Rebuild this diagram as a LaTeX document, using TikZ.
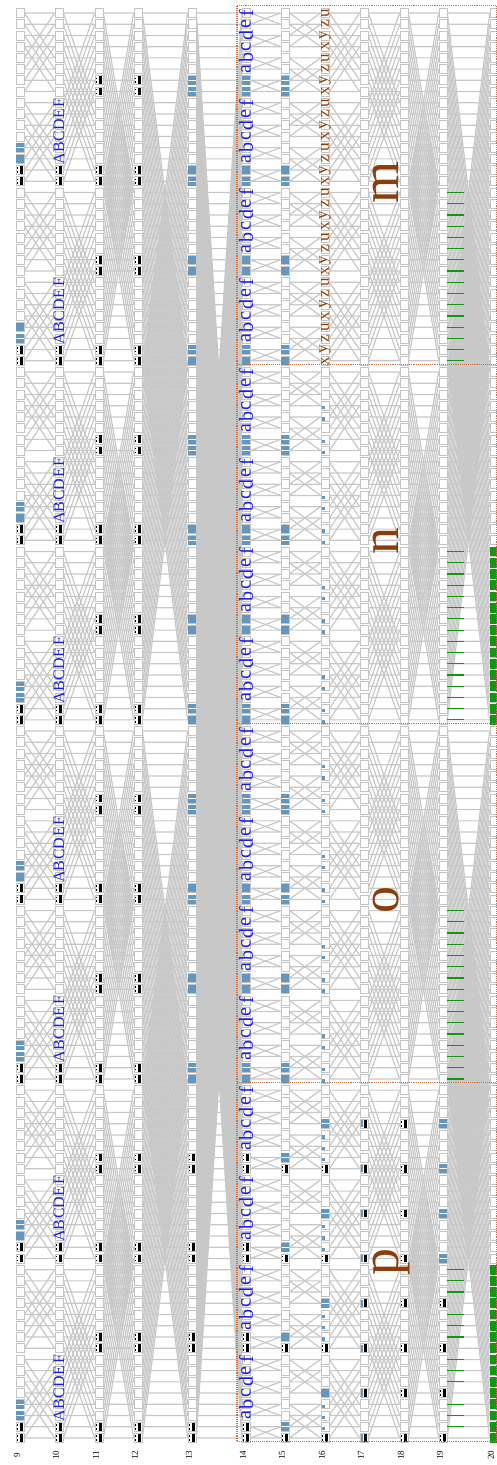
\documentclass[tikz,border=0pt]{standalone}
\usepackage{fontspec}
\setmainfont{Liberation Serif}
\definecolor{wiregray}{RGB}{200,200,200}
\definecolor{cellgray}{RGB}{196,196,196}
\definecolor{rustbrown}{RGB}{140,62,10}
\definecolor{boxbrown}{RGB}{200,115,70}
\definecolor{labelblue}{RGB}{30,30,225}
\definecolor{tileblue}{RGB}{100,150,190}
\definecolor{markgreen}{RGB}{20,150,20}
\tikzset{
  cell/.style={draw=cellgray,fill=white,line width=0.7pt,minimum width=8pt,
    minimum height=9pt,inner sep=0pt},
  wire/.style={draw=wiregray,line width=1.2pt},
  secbox/.style={draw=boxbrown,densely dotted,line width=1.1pt},
  chr/.style={rotate=90,inner sep=0pt,text=labelblue,
    font=\fontsize{20}{20}\selectfont},
  capchr/.style={rotate=90,inner sep=0pt,text=labelblue,
    font=\fontsize{16}{16}\selectfont},
  brownchr/.style={rotate=90,inner sep=0pt,text=rustbrown,
    font=\fontsize{17}{17}\selectfont},
  bigchr/.style={rotate=90,inner sep=0pt,text=rustbrown,
    font=\fontsize{54}{54}\selectfont},
  stagelbl/.style={rotate=90,inner sep=0pt,font=\fontsize{9}{9}\selectfont},
  stub/.style={draw=markgreen,line width=1.2pt},
  blackmark/.pic={
    \fill[black] (-3.3,-2.8) rectangle (-1.6,-1.1);
    \fill[black] (-3.3,1.1) rectangle (-1.6,2.8);
    \fill[black] (0.2,-3.9) rectangle (3.1,3.9);},
  bluetile/.pic={
    \foreach \u in {-3.7,0.3}{\foreach \v in {-4.3,0.3}{
      \fill[tileblue] (\u,\v) rectangle ++(3.4,4);}}},
  bluedot/.pic={\fill[tileblue] (-3.5,0.3) rectangle ++(3.2,3.4);},
  mixmark/.pic={
    \fill[tileblue] (-3.5,-3.6) rectangle (-0.6,3.6);
    \fill[black] (0.2,-3.9) rectangle (3.1,3.9);},
}

\begin{document}
\begin{tikzpicture}[x=1pt,y=-1pt]
\useasboundingbox (0,0) rectangle (496,1465);
% cells of every stage
\foreach \s/\x in {9/20,10/59,11/99,12/138,13/192,14/246,15/285,16/325,
                   17/364,18/404,19/443,20/494}{
  \foreach \r in {0,...,127}{
    \node[cell] (c\s-\r) at (\x,13+11.22*\r) {};}
  \node[stagelbl] (lbl\s) at (\x-3,1455) {\s};}
% butterfly wiring
\foreach \s/\t/\d in {9/10/4,10/11/8,11/12/16,12/13/32,13/14/64,14/15/1,
                      15/16/2,16/17/4,17/18/8,18/19/16,19/20/32}{
  \foreach \r in {0,...,127}{
    \pgfmathtruncatemacro\p{ifthenelse(mod(floor(\r/\d),2)==0,\r+\d,\r-\d)}
    \draw[wire] (c\s-\r.east) -- (c\t-\r.west) (c\s-\r.east) -- (c\t-\p.west);}}
% markers, stages 9 and 10
\foreach \k in {0,...,7}{
  \foreach \j in {12,13}{
    \pgfmathtruncatemacro\r{16*\k+\j}
    \pic at (c9-\r) {bluetile};}
  \foreach \j in {14,15}{
    \pgfmathtruncatemacro\r{16*\k+\j}
    \pic at (c9-\r) {blackmark};
    \pic at (c10-\r) {blackmark};}
  \foreach \j/\ch in {8/F,9/E,10/D,11/C,12/B,13/A}{
    \pgfmathtruncatemacro\r{16*\k+\j}
    \node[capchr] (cap-\r) at (c10-\r) {\ch};}}
% markers, stages 11 to 15
\foreach \k in {0,...,15}{
  \foreach \j in {6,7}{
    \pgfmathtruncatemacro\r{8*\k+\j}
    \pic at (c11-\r) {blackmark};
    \pic at (c12-\r) {blackmark};
    \ifnum\r<96
      \pic at (c13-\r) {bluetile}; \pic at (c14-\r) {bluetile};
      \pic at (c15-\r) {bluetile};
    \else
      \pic at (c13-\r) {blackmark}; \pic at (c14-\r) {blackmark};
      \ifnum\j=6 \pic at (c15-\r) {bluetile};
      \else \pic at (c15-\r) {blackmark}; \fi
    \fi}
  \foreach \j/\ch in {0/f,1/e,2/d,3/c,4/b,5/a}{
    \pgfmathtruncatemacro\r{8*\k+\j}
    \node[chr] (abc-\r) at (c14-\r) {\ch};}}
% stage 16, sections n and o
\foreach \k in {4,...,11}{
  \foreach \j in {3,4,6,7}{
    \pgfmathtruncatemacro\r{8*\k+\j}
    \pic at (c16-\r) {bluedot};}}
% stages 16 to 19, section p
\foreach \k in {12,...,15}{
  \pgfmathtruncatemacro\ra{8*\k+3}
  \pgfmathtruncatemacro\rb{8*\k+7}
  \pic at (c16-\ra) {bluetile};
  \pic at (c16-\rb) {blackmark};
  \foreach \j in {4,5,6}{
    \pgfmathtruncatemacro\r{8*\k+\j}
    \pic at (c16-\r) {bluedot};}
  \pic at (c17-\ra) {mixmark}; \pic at (c17-\rb) {mixmark};
  \pic at (c18-\ra) {blackmark}; \pic at (c18-\rb) {blackmark};
  \ifnum\k<14
    \pic at (c19-\ra) {bluetile}; \pic at (c19-\rb) {bluetile};
  \else
    \pic at (c19-\ra) {blackmark}; \pic at (c19-\rb) {blackmark};
  \fi}
% xyzu on stage 16
\foreach \r in {0,...,31}{
  \pgfmathtruncatemacro\m{mod(31-\r,4)}
  \node[brownchr] (xyz-\r) at (c16-\r) {\ifcase\m x\or y\or z\or u\fi};}
% green marks
\foreach \b in {16,48,80,112}{
  \foreach \j in {0,...,15}{
    \pgfmathtruncatemacro\r{\b+\j}
    \pgfmathtruncatemacro\q{mod(\j,4)}
    \ifnum\b=112 \ifnum\q=3 \else
      \draw[stub] (c19-\r.east) -- ++(17,0);\fi
    \else \draw[stub] (c19-\r.east) -- ++(17,0);\fi}}
\foreach \b in {48,112}{
  \foreach \j in {0,...,15}{
    \pgfmathtruncatemacro\r{\b+\j}
    \fill[markgreen] (c20-\r.south west) rectangle (c20-\r.north east);}}
% sections
\foreach \k in {0,...,3}{
  \draw[secbox] (237,5.5+359.04*\k) rectangle (497,5.5+359.04*\k+359.04);}
\node[bigchr] (secm) at (386,182) {m};
\node[bigchr] (secn) at (386,541) {n};
\node[bigchr] (seco) at (386,900) {o};
\node[bigchr] (secp) at (392,1262) {p};
\end{tikzpicture}
\end{document}
